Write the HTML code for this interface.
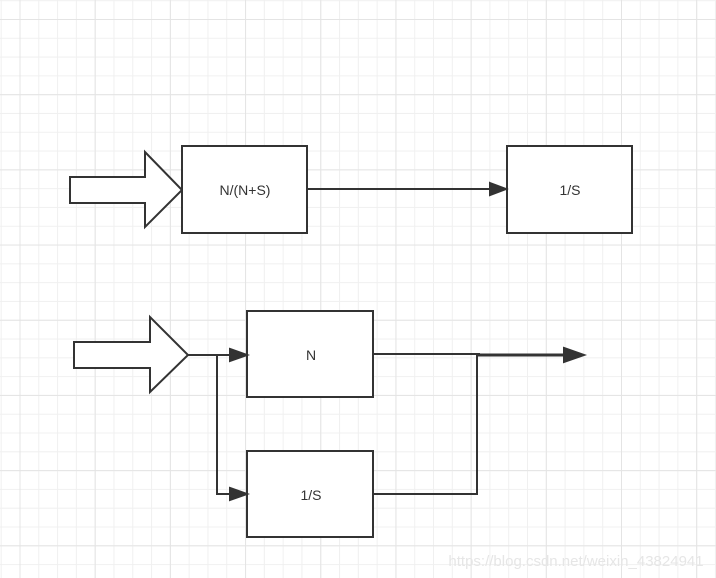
<!DOCTYPE html>
<html><head><meta charset="utf-8"><style>
html,body{margin:0;padding:0}
body{width:716px;height:578px;overflow:hidden;background-color:#fff;
background-image:
linear-gradient(to right,#e4e4e4 1.2px,transparent 1.2px),
linear-gradient(to bottom,#e4e4e4 1.2px,transparent 1.2px),
linear-gradient(to right,#f0f0f0 1px,transparent 1px),
linear-gradient(to bottom,#f0f0f0 1px,transparent 1px);
background-size:75.2px 75.2px,75.2px 75.2px,18.8px 18.8px,18.8px 18.8px;
background-position:19.5px 0,0 19px,0.7px 0,0 0.2px;}
svg{position:absolute;left:0;top:0}
text{font-family:"Liberation Sans",sans-serif;font-size:14px;fill:#333;text-anchor:middle}
</style></head><body>
<svg width="716" height="578" viewBox="0 0 716 578">
<defs><marker id="a" markerWidth="10" markerHeight="8" refX="9" refY="4" orient="auto" markerUnits="userSpaceOnUse"><path d="M0,0 L18,4 L0,8Z" fill="#333"/></marker></defs>
<g stroke="#333" stroke-width="2" fill="#fff">
<path d="M70,177 H145 V152 L182,190 L145,227 V203 H70 Z"/>
<rect x="182" y="146" width="125" height="87"/>
<rect x="507" y="146" width="125" height="87"/>
<path d="M74,342 H150 V317 L188,355 L150,392 V368 H74 Z"/>
<rect x="247" y="311" width="126" height="86"/>
<rect x="247" y="451" width="126" height="86"/>
</g>
<g stroke="#333" stroke-width="2" fill="none">
<line x1="308" y1="189" x2="490" y2="189"/>
<path d="M490,183 L506,189 L490,195Z" fill="#333"/>
<line x1="188" y1="355" x2="232" y2="355"/>
<path d="M230,349 L247,355 L230,361Z" fill="#333"/>
<path d="M217,355 V494 H232"/>
<path d="M230,488 L247,494 L230,500Z" fill="#333"/>
<line x1="374" y1="354" x2="480" y2="354"/>
<line x1="477" y1="355" x2="566" y2="355" stroke-width="3"/>
<path d="M564,348 L584,355 L564,362Z" fill="#333"/>
<path d="M374,494 H477 V355"/>
</g>
<text x="245" y="195">N/(N+S)</text>
<text x="570" y="195">1/S</text>
<text x="311" y="360">N</text>
<text x="311" y="500">1/S</text>
<text x="576" y="566" style="font-size:15px;fill:#e6e6e6">https://blog.csdn.net/weixin_43824941</text>
</svg>
</body></html>
